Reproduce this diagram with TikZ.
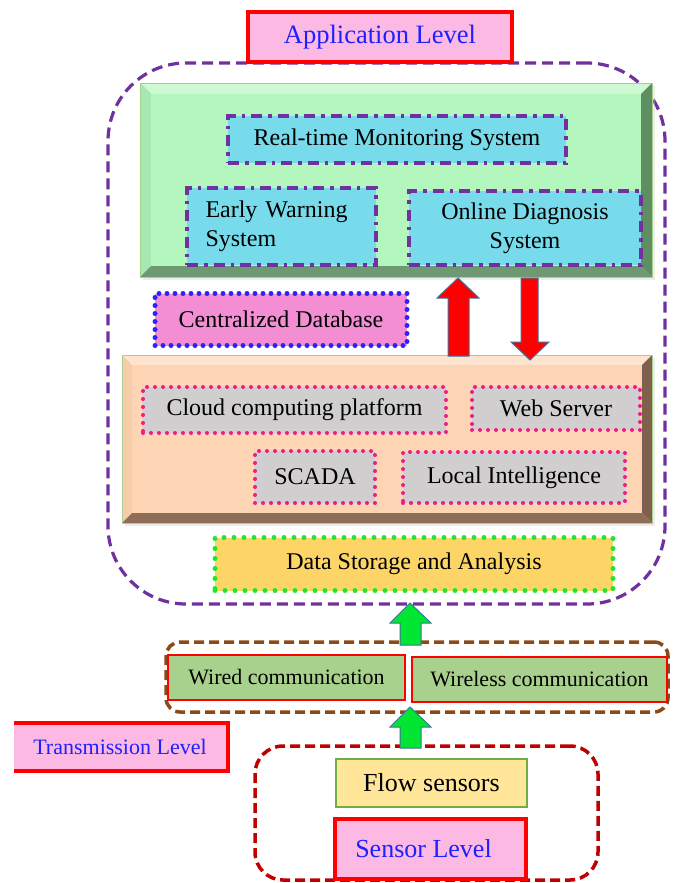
\documentclass[tikz,border=0pt]{standalone}
\usepackage{fontspec}
\setmainfont{Liberation Serif}
\definecolor{lvlred}{HTML}{FF0000}
\definecolor{lvlpink}{HTML}{FBB9E3}
\definecolor{lvlblue}{HTML}{1F1FFF}
\definecolor{purp}{HTML}{7030A0}
\definecolor{cyanfill}{HTML}{77DBEB}
\definecolor{greenface}{HTML}{B4F7BE}
\definecolor{greentop}{HTML}{CDFAD3}
\definecolor{greenleft}{HTML}{A6E8AF}
\definecolor{greenright}{HTML}{5E8E62}
\definecolor{greenbot}{HTML}{6E9972}
\definecolor{greenedge}{HTML}{A9D18E}
\definecolor{peachface}{HTML}{FDD5B5}
\definecolor{peachtop}{HTML}{FEE4CF}
\definecolor{peachleft}{HTML}{F8CCA8}
\definecolor{peachright}{HTML}{7E604D}
\definecolor{peachbot}{HTML}{8E6E58}
\definecolor{grayfill}{HTML}{D0CECE}
\definecolor{magdot}{HTML}{EC1C8C}
\definecolor{dbfill}{HTML}{F48ED4}
\definecolor{dbblue}{HTML}{2F22FF}
\definecolor{goldfill}{HTML}{FCD566}
\definecolor{dotgreen}{HTML}{22E62E}
\definecolor{arrgreen}{HTML}{00E632}
\definecolor{arredge}{HTML}{41719C}
\definecolor{brownd}{HTML}{8B4A1A}
\definecolor{redd}{HTML}{C00000}
\definecolor{commgreen}{HTML}{A9D18E}
\definecolor{flowfill}{HTML}{FFE699}
\definecolor{flowedge}{HTML}{70AD47}
\begin{document}
\begin{tikzpicture}[x=1pt,y=-1pt,
  every node/.style={inner sep=0pt, outer sep=0pt, font=\fontsize{24}{29}\selectfont},
  levelbox/.style={draw=lvlred, line width=4pt, fill=lvlpink, text=lvlblue},
  cyanbox/.style={draw=purp, line width=3.5pt, fill=cyanfill, dash pattern=on 11pt off 6pt on 3.5pt off 6pt},
  graybox/.style={draw=magdot, line width=4pt, fill=grayfill, dash pattern=on 0pt off 8pt, line cap=round},
  dbbox/.style={draw=dbblue, line width=5pt, fill=dbfill, dash pattern=on 0pt off 8pt, line cap=round},
  goldbox/.style={draw=dotgreen, line width=5pt, fill=goldfill, dash pattern=on 0pt off 10pt, line cap=round},
  commbox/.style={draw=lvlred, line width=1.5pt, fill=commgreen, font=\fontsize{22}{26}\selectfont},
  layerline/.style={line width=3.2pt, dash pattern=on 11pt off 6pt},
  facebox/.style={draw=none},
  blockarrow/.style={draw=arredge, line width=1pt, line join=miter}
]
\useasboundingbox (0,0) rectangle (673,883);

% ---------- application layer container ----------
\node[draw=purp, layerline, rounded corners=78pt, minimum width=557pt, minimum height=541pt] (applayer) at (386.5,333.5) {};

\node[levelbox, minimum width=264pt, minimum height=50pt, font=\fontsize{26.5}{30}\selectfont] (applevel) at (380,37) {Application Level};

% ---------- green bevel box ----------
\fill[black!20, opacity=0.35] (143,86) rectangle (655,280);
\fill[greenface] (140,83) rectangle (652,277);
\fill[greentop] (140,83) -- (652,83) -- (641,94) -- (151,94) -- cycle;
\fill[greenleft] (140,83) -- (151,94) -- (151,266) -- (140,277) -- cycle;
\fill[greenright] (652,83) -- (652,277) -- (641,266) -- (641,94) -- cycle;
\fill[greenbot] (140,277) -- (652,277) -- (641,266) -- (151,266) -- cycle;
\draw[greenedge, line width=1pt] (140,83) rectangle (652,277);
\node[facebox, fill=greenface, minimum width=490pt, minimum height=172pt] (appface) at (396,180) {};

\node[cyanbox, minimum width=338pt, minimum height=47pt] (rtm) at (397,139.5) {Real-time Monitoring System};
\node[cyanbox, minimum width=189pt, minimum height=77pt, text width=152pt, align=left] (ews) at (281.5,226.5) {Early Warning\\System};
\node[cyanbox, minimum width=232pt, minimum height=74pt, align=center] (ods) at (525,228) {Online Diagnosis\\System};

% ---------- centralized database ----------
\node[dbbox, minimum width=252pt, minimum height=52pt] (cdb) at (281,319.5) {Centralized Database};

% ---------- peach bevel box ----------
\fill[black!20, opacity=0.35] (125,358) rectangle (655,526);
\fill[peachface] (122,355) rectangle (652,523);
\fill[peachtop] (122,355) -- (652,355) -- (642,365) -- (132,365) -- cycle;
\fill[peachleft] (122,355) -- (132,365) -- (132,513) -- (122,523) -- cycle;
\fill[peachright] (652,355) -- (652,523) -- (642,513) -- (642,365) -- cycle;
\fill[peachbot] (122,523) -- (652,523) -- (642,513) -- (132,513) -- cycle;
\draw[greenedge, line width=1pt] (122,355) rectangle (652,523);
\node[facebox, fill=peachface, minimum width=510pt, minimum height=148pt] (procface) at (387,439) {};

\node[graybox, minimum width=303pt, minimum height=46pt] (cloud) at (294.5,410) {Cloud computing platform};
\node[graybox, minimum width=168pt, minimum height=43pt] (web) at (556,408.5) {Web Server};
\node[graybox, minimum width=120pt, minimum height=52pt] (scada) at (315,477) {SCADA};
\node[graybox, minimum width=222pt, minimum height=51pt] (local) at (514,477.5) {Local Intelligence};

% ---------- red block arrows between green and peach boxes ----------
\fill[red, blockarrow] (448,356) -- (448,298) -- (437,298) -- (458,278) -- (479,298) -- (469,298) -- (469,356) -- cycle;
\fill[red, blockarrow] (521,278) -- (538,278) -- (538,342) -- (549,342) -- (530,360) -- (511,342) -- (521,342) -- cycle;

% ---------- data storage ----------
\node[goldbox, minimum width=398pt, minimum height=53pt] (dsa) at (414,564) {Data Storage and Analysis};

% ---------- transmission layer ----------
\node[draw=brownd, layerline, line width=3.5pt, dash pattern=on 10pt off 5pt, rounded corners=14pt, minimum width=502pt, minimum height=70pt] (translayer) at (417,677) {};
\node[commbox, minimum width=237pt, minimum height=45pt] (wired) at (286.5,677.5) {Wired communication};
\node[commbox, minimum width=255pt, minimum height=45pt] (wireless) at (539.5,679.5) {Wireless communication};

\fill[arrgreen, blockarrow] (400,645) -- (400,623) -- (390,623) -- (410,603) -- (431,623) -- (421,623) -- (421,645) -- cycle;

% ---------- transmission label ----------
\fill[lvlpink] (14,723) rectangle (228,771);
\draw[lvlred, line width=4pt] (14,723) -- (228,723) -- (228,771) -- (14,771);
\node[text=lvlblue, font=\fontsize{22}{26}\selectfont] (translevel) at (120,747) {Transmission Level};

% ---------- sensor layer ----------
\node[draw=redd, layerline, line width=3.5pt, dash pattern=on 10pt off 5pt, rounded corners=28pt, minimum width=343pt, minimum height=134pt] (senslayer) at (426.5,813) {};
\fill[arrgreen, blockarrow] (400,748) -- (400,727) -- (390,727) -- (410,707) -- (431,727) -- (421,727) -- (421,748) -- cycle;
\node[draw=flowedge, line width=1.5pt, fill=flowfill, minimum width=191pt, minimum height=48pt, font=\fontsize{26}{30}\selectfont] (flow) at (431.5,783) {Flow sensors};
\node[levelbox, minimum width=191pt, minimum height=60pt, font=\fontsize{26}{30}\selectfont] (senslevel) at (430.5,849) {Sensor Level\hspace*{14pt}};
\end{tikzpicture}
\end{document}
